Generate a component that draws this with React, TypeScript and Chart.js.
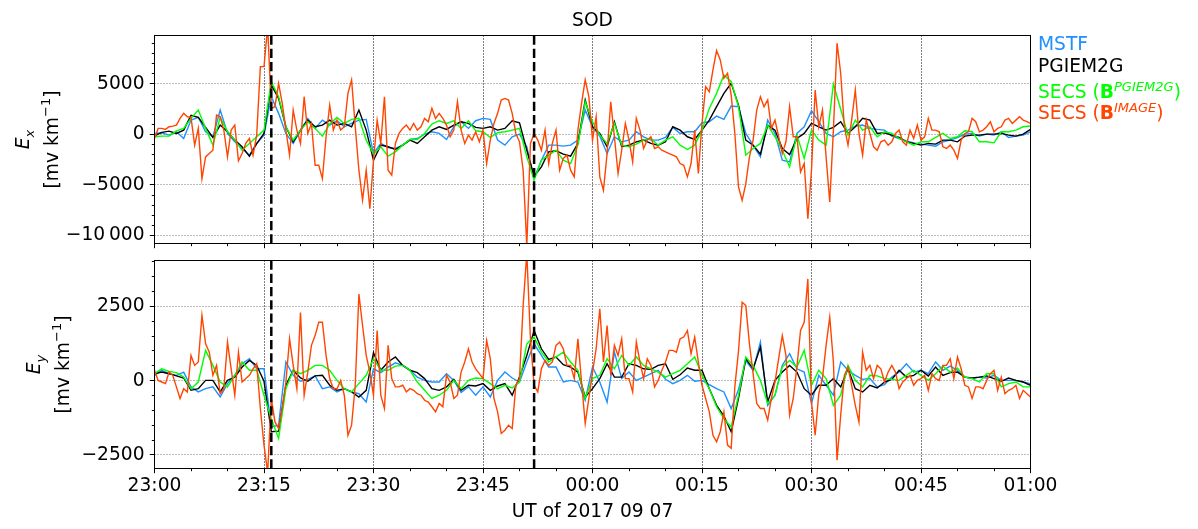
import React, { useEffect, useRef } from "react";
import { Chart, registerables } from "chart.js";

Chart.register(...registerables);

// ---------------- data ----------------
const xTickMinutes = [0, 15, 30, 45, 60, 75, 90, 105, 120];
const xTickLabels = ["23:00", "23:15", "23:30", "23:45", "00:00", "00:15", "00:30", "00:45", "01:00"];
const xMinorStep = 5;
const eventMinutes = [16, 52]; // 23:16 and 23:52
const mainStep = 1; // minutes between samples (MSTF, PGIEM2G, SECS B^PGIEM2G)
const imageStep = 0.5; // minutes between samples (SECS B^IMAGE)

const exTicks = [-10000, -5000, 0, 5000];
const exTickLabels = ["−10\u2009000", "−5000", "0", "5000"];
const eyTicks = [-2500, 0, 2500];
const eyTickLabels = ["−2500", "0", "2500"];

const exMSTF = [100,165,-66,265,-400,1420,1700,265,-230,2420,100,-730,-1390,-2050,-890,-66,3740,2090,100,-890,430,1590,600,1420,930,1360,760,1090,1420,1490,-1890,-890,-1290,-1390,-1060,-500,-400,30,265,100,-500,
760,1260,600,1360,1590,1490,-560,-1060,-230,30,-1220,-4370,-2550,-1060,-1060,-1160,-1060,-560,2420,760,-165,-1890,-230,-730,-560,265,-230,-560,-560,-300,700,100,265,265,1160,1260,1820,1490,2810,2750,
100,-1060,-2220,1420,100,-2550,-2710,100,760,2350,1260,100,-230,265,430,830,930,600,500,430,-165,-400,-630,-830,-960,-1060,-1160,-730,-560,-300,30,100,-165,30,-66,265,-300,-165,-66,265];

const exPGIEM2G = [-150,200,330,100,430,1900,1700,700,-300,930,260,-560,-1220,-2150,-900,100,4900,3580,760,-730,430,1420,760,930,1420,930,1090,760,2420,430,-2550,-1060,-1220,-1490,-1060,-560,-890,-230,430,760,500,
930,1260,1090,700,600,760,430,600,1360,1160,-1560,-4140,-3210,-1720,-1620,-1950,-2150,-890,3410,760,100,-1220,1260,-1220,-1060,-730,-560,-890,-1060,-730,760,430,-230,-500,430,1420,2750,4070,5060,2910,
-560,-1060,-1950,930,430,-1390,-1990,-400,100,1090,760,430,700,1260,100,760,1590,1420,100,165,-66,-300,-730,-890,-1060,-890,-960,-560,-560,-730,-165,-66,-66,30,30,100,-66,-165,30,500];

const exSECSpg = [-230,-165,-165,360,600,1590,2420,600,-1060,1690,265,-560,-1560,-890,-230,430,5230,3740,760,-560,430,1260,600,-165,1030,1690,1090,1490,1590,-560,-1950,-1220,-2150,-1720,-1060,-500,-500,100,1030,1360,1090,
1360,600,1360,360,265,-300,165,265,430,600,-2220,-4530,-2550,-2050,-1560,-2550,-2880,-1060,3240,1260,-66,-890,1090,-1060,-1220,-960,-560,-400,-1060,-560,-230,-1060,-1490,-1060,430,2580,4070,5890,5230,2750,
-2050,-1390,-890,930,-230,-1560,-3210,-66,-2380,430,-560,-1060,5000,2500,-66,1420,430,760,-230,265,100,-400,-730,-1060,-730,-730,-300,100,-400,-230,360,265,-730,-730,-830,265,265,430,760,830];

const exSECSim = [
-400,600,600,500,760,830,930,1590,2090,1750,
1700,-1060,600,-4370,-2220,-1890,-1560,1920,1750,430,
-2220,430,930,-2610,-1890,-890,-400,-2050,-66,6720,
6720,10690,2580,2750,5060,3080,430,-2050,2420,430,
-890,3740,100,1090,-3050,-3050,-4370,-230,2910,430,
1420,430,760,4070,5400,760,-3540,-6520,-3540,-7350,
-2550,1420,-890,3740,-3540,-4040,-890,100,600,930,
430,1090,430,760,1590,1260,2580,1590,2090,1590,
930,-230,430,3240,430,-890,-66,-560,265,-730,
430,-2880,-560,1090,2090,3410,3570,3410,2090,100,
-730,-3540,-11000,-890,100,-560,-1560,430,-2880,-890,
430,-3540,-2380,-2050,-3540,-4200,430,3080,5400,3740,
-560,1750,-4200,-5530,-1890,3240,-230,-3870,-1560,1090,
-560,-2710,1590,430,-1390,-560,-230,-1390,-1220,-1560,
-1720,-1890,-2050,-2220,-2880,-3050,-4200,-2880,430,-3870,
1090,4730,4240,6390,8310,7380,5560,6060,3900,100,
-5200,-6520,-4870,-2220,-560,2420,3740,2750,3410,600,
1420,-230,-1890,-730,2750,-230,-230,-3710,-2880,-8340,
-3540,4400,760,2420,-2220,-6690,430,9040,6060,760,
-1060,1420,4400,100,-2050,1420,100,-1220,-1560,-730,
-560,-1060,-730,100,430,-730,-1060,430,-400,930,
-560,-230,1590,430,430,265,-1220,-1390,-1060,-1560,
-2380,-560,100,265,1590,1260,265,430,760,1260,
265,600,760,1420,1590,1090,1420,1750,1420,1260,
1090];

const eyMSTF = [180,350,235,180,290,-210,-380,-270,-210,-550,-100,180,570,740,400,400,-1560,-1500,630,180,-20,45,160,-270,-210,-380,-270,-380,-440,-720,400,270,460,600,515,350,120,10,-45,-45,235,
10,-400,-210,-490,-210,-550,10,290,90,-45,630,1240,850,460,460,-45,10,-45,-660,460,-45,-720,960,70,290,10,120,235,350,45,-100,10,180,-20,10,-135,-270,-380,-940,-300,
680,350,1300,-830,-490,515,910,400,290,-770,180,-155,-490,630,350,180,45,70,-210,-135,120,290,570,290,350,235,630,350,490,350,120,70,120,90,180,10,10,10,-45,-100];

const eyPGIEM2G = [235,290,235,160,90,-325,-270,10,10,-380,10,120,460,680,515,-20,-1720,-1700,-150,350,90,-20,160,180,-155,-325,-270,-380,-550,-325,940,350,630,800,515,350,270,70,-270,-325,-210,
45,-325,-155,-180,-100,-325,-180,-100,-490,120,850,1690,1075,720,800,540,460,290,-550,-270,70,570,120,120,570,515,400,380,515,570,45,200,425,350,350,-270,-830,-1190,-1720,-600,
740,400,1130,-720,10,290,515,290,-270,-490,-155,-155,70,-210,400,-270,-380,-155,-245,-45,45,350,120,180,350,160,460,180,270,290,120,90,120,160,70,-20,90,10,-45,-155];

const eySECSpg = [235,400,315,270,120,-270,-45,1020,515,-45,-210,180,630,350,350,-490,-1280,-1950,-270,350,235,350,515,515,350,10,-270,-380,-100,180,740,350,350,490,515,350,-45,-325,-600,-490,-325,
10,-270,10,90,70,-100,-270,-155,-245,-45,1240,1470,960,630,800,960,630,350,-600,70,180,740,400,850,515,800,515,400,290,120,235,350,570,800,180,-270,-880,-1280,-1560,-500,
800,515,10,-770,-490,460,680,460,1020,-155,350,70,-830,-490,515,10,-210,180,160,70,45,10,180,350,180,10,235,490,290,425,120,70,-45,235,235,-210,-100,-45,-210,-210];

const eySECSim = [
350,10,-45,-100,290,180,-210,-600,-270,-380,
850,515,630,2200,1240,960,180,515,-440,-270,
1300,400,-490,960,-45,70,180,400,570,-940,
-2170,-3100,-600,-1390,-1610,-940,-45,1410,515,-270,
2300,-490,290,1190,1520,1970,1970,850,70,-270,
-270,10,-490,-1840,-1500,-155,2920,1860,850,290,
-490,1690,-490,-940,1190,70,-210,-210,-155,-380,
-270,-325,-440,-490,-660,-720,-880,-1050,-770,-880,
180,-45,-600,-490,290,630,1075,630,400,235,
70,1350,740,-600,-1050,-1780,-1670,-1500,-1610,-155,
70,2530,4300,1410,-155,-380,400,680,515,630,
1190,1300,1075,515,515,70,1410,-45,-1440,-600,
290,1075,2420,630,1860,180,1190,850,1410,70,
70,-380,1300,630,70,740,515,-210,10,350,
630,1020,1020,960,1410,1470,1690,910,1470,630,
-155,-600,-1050,-1840,-2060,-1720,-1050,-2170,-2280,-200,
1000,2640,2530,1240,235,-770,-940,-940,-1330,-600,
-45,740,1520,850,-1160,-600,460,1690,1970,3430,
-720,-1840,-440,70,1190,2140,630,-2680,-1160,180,
460,-155,-830,-1390,960,350,515,70,515,400,
-45,290,515,290,-270,-45,70,180,-155,10,
70,180,-325,235,70,10,515,515,740,70,
800,400,-155,-210,-600,-210,-210,-270,10,235,
350,-325,120,-440,-325,-270,-155,-600,-325,-440,
-550];

const seriesNames = ["MSTF", "PGIEM2G", "SECS (B^PGIEM2G)", "SECS (B^IMAGE)"];
const seriesColors = ["#1e90ff", "#000000", "#00ff00", "#ff4500"];

// ---------------- layout / style ----------------
const W = 1198;
const H = 529;
const FONT = '"DejaVu Sans", Verdana, sans-serif';
const FS = 18.67;
const fNorm = `${FS}px ${FONT}`;
const fBold = `bold ${FS}px ${FONT}`;
const fItal = `italic ${FS}px ${FONT}`;
const fSmall = `${FS * 0.7}px ${FONT}`;
const fSmallItal = `italic ${FS * 0.7}px ${FONT}`;

type Run = { t: string; f: string; dy: number };

function runsWidth(ctx: CanvasRenderingContext2D, runs: Run[]) {
  return runs.map((r) => {
    ctx.font = r.f;
    return ctx.measureText(r.t).width;
  });
}

function drawRuns(ctx: CanvasRenderingContext2D, runs: Run[], x0: number, by: number, color: string) {
  ctx.save();
  ctx.fillStyle = color;
  ctx.textAlign = "left";
  ctx.textBaseline = "alphabetic";
  const ws = runsWidth(ctx, runs);
  let x = x0;
  runs.forEach((r, i) => {
    ctx.font = r.f;
    ctx.fillText(r.t, x, by + r.dy);
    x += ws[i];
  });
  ctx.restore();
}

function drawRunsRot(ctx: CanvasRenderingContext2D, runs: Run[], bx: number, cy: number) {
  ctx.save();
  ctx.translate(bx, cy);
  ctx.rotate(-Math.PI / 2);
  ctx.fillStyle = "#000";
  ctx.textAlign = "left";
  ctx.textBaseline = "alphabetic";
  const ws = runsWidth(ctx, runs);
  const total = ws.reduce((a, b) => a + b, 0);
  let x = -total / 2;
  runs.forEach((r, i) => {
    ctx.font = r.f;
    ctx.fillText(r.t, x, r.dy);
    x += ws[i];
  });
  ctx.restore();
}

const snap = (v: number) => Math.floor(v) + 0.5;

type PanelCfg = {
  id: string;
  mstf: number[];
  pg: number[];
  secsPg: number[];
  secsIm: number[];
  yMin: number;
  yMax: number;
  yTicks: number[];
  yTickLabels: string[];
  yMinor: number;
  padTop: number;
  padBottom: number;
  xAxisHeight: number;
  showXLabels: boolean;
  sub: string;
  base1: number;
  base2: number;
  top: boolean;
};

function makePlugin(p: PanelCfg) {
  return {
    id: "deco_" + p.id,
    beforeDatasetsDraw(chart: any) {
      const { ctx, chartArea: a, scales } = chart;
      const xs = scales.x;
      const ys = scales.y;
      ctx.save();
      // horizontal dotted grid (grey)
      ctx.strokeStyle = "#7a7a7a";
      ctx.lineWidth = 1;
      ctx.setLineDash([1, 2]);
      for (const v of p.yTicks) {
        const y = snap(ys.getPixelForValue(v));
        ctx.beginPath();
        ctx.moveTo(a.left, y);
        ctx.lineTo(a.right, y);
        ctx.stroke();
      }
      // vertical dotted grid at major x ticks (black)
      ctx.strokeStyle = "#000";
      ctx.lineWidth = 1;
      ctx.setLineDash([1, 2]);
      for (const m of xTickMinutes) {
        if (m <= xs.min || m >= xs.max) continue;
        const x = snap(xs.getPixelForValue(m));
        ctx.beginPath();
        ctx.moveTo(x, a.top);
        ctx.lineTo(x, a.bottom);
        ctx.stroke();
      }
      ctx.restore();
    },
    afterDatasetsDraw(chart: any) {
      const { ctx, chartArea: a, scales } = chart;
      const xs = scales.x;
      const ys = scales.y;
      ctx.save();
      // event dashed lines
      ctx.strokeStyle = "#000";
      ctx.lineWidth = 2.5;
      ctx.setLineDash([9.25, 4]);
      for (const m of eventMinutes) {
        const x = xs.getPixelForValue(m);
        ctx.beginPath();
        ctx.moveTo(x, a.top);
        ctx.lineTo(x, a.bottom);
        ctx.stroke();
      }
      // frame
      ctx.setLineDash([]);
      ctx.lineWidth = 1;
      ctx.strokeRect(a.left, a.top, a.right - a.left, a.bottom - a.top);
      // x ticks
      for (let m = xs.min; m <= xs.max + 1e-9; m += xMinorStep) {
        const major = xTickMinutes.includes(m);
        const x = snap(xs.getPixelForValue(m));
        ctx.beginPath();
        ctx.moveTo(x, a.bottom);
        ctx.lineTo(x, a.bottom + (major ? 4.7 : 2.7));
        ctx.stroke();
      }
      // y ticks
      const start = Math.ceil(p.yMin / p.yMinor) * p.yMinor;
      for (let v = start; v <= p.yMax; v += p.yMinor) {
        const major = p.yTicks.includes(v);
        const y = snap(ys.getPixelForValue(v));
        ctx.beginPath();
        ctx.moveTo(a.left - (major ? 4.7 : 2.7), y);
        ctx.lineTo(a.left, y);
        ctx.stroke();
      }
      ctx.restore();
    },
    afterDraw(chart: any) {
      const { ctx, chartArea: a } = chart;
      const cy = (a.top + a.bottom) / 2;
      drawRunsRot(ctx, [
        { t: "E", f: fItal, dy: 0 },
        { t: p.sub, f: fSmallItal, dy: 4.5 },
      ], p.base1, cy);
      drawRunsRot(ctx, [
        { t: "[mv km", f: fNorm, dy: 0 },
        { t: "−1", f: fSmall, dy: -7.5 },
        { t: "]", f: fNorm, dy: 0 },
      ], p.base2, cy);
      const cx = (a.left + a.right) / 2;
      if (p.top) {
        ctx.save();
        ctx.fillStyle = "#000";
        ctx.font = fNorm;
        ctx.textAlign = "center";
        ctx.textBaseline = "alphabetic";
        ctx.fillText("SOD", cx, 26);
        ctx.restore();
        const lx = a.right + 7.5;
        drawRuns(ctx, [{ t: seriesNames[0], f: fNorm, dy: 0 }], lx, 50, seriesColors[0]);
        drawRuns(ctx, [{ t: seriesNames[1], f: fNorm, dy: 0 }], lx, 72, seriesColors[1]);
        drawRuns(ctx, [
          { t: "SECS (", f: fNorm, dy: 0 },
          { t: "B", f: fBold, dy: 0 },
          { t: "PGIEM2G", f: fSmallItal, dy: -6.6 },
          { t: ")", f: fNorm, dy: 0 },
        ], lx, 98, seriesColors[2]);
        drawRuns(ctx, [
          { t: "SECS (", f: fNorm, dy: 0 },
          { t: "B", f: fBold, dy: 0 },
          { t: "IMAGE", f: fSmallItal, dy: -6.6 },
          { t: ")", f: fNorm, dy: 0 },
        ], lx, 119, seriesColors[3]);
      } else {
        ctx.save();
        ctx.fillStyle = "#000";
        ctx.font = fNorm;
        ctx.textAlign = "center";
        ctx.textBaseline = "alphabetic";
        ctx.fillText("UT of 2017 09 07", cx, 517);
        ctx.restore();
      }
    },
  };
}

const toPts = (vals: number[], step: number) => vals.map((v, i) => ({ x: i * step, y: v }));

function makeConfig(p: PanelCfg): any {
  const ds = (label: string, data: number[], step: number, color: string, order: number) => ({
    label,
    data: toPts(data, step),
    borderColor: color,
    backgroundColor: color,
    borderWidth: 1.4,
    pointRadius: 0,
    tension: 0,
    fill: false,
    order,
  });
  return {
    type: "line",
    data: {
      datasets: [
        ds(seriesNames[0], p.mstf, mainStep, seriesColors[0], 3),
        ds(seriesNames[1], p.pg, mainStep, seriesColors[1], 2),
        ds(seriesNames[2], p.secsPg, mainStep, seriesColors[2], 1),
        ds(seriesNames[3], p.secsIm, imageStep, seriesColors[3], 0),
      ],
    },
    options: {
      animation: false,
      responsive: false,
      devicePixelRatio: 1,
      events: [],
      layout: { padding: { left: 0, right: W - 1030.5, top: p.padTop, bottom: p.padBottom } },
      plugins: { legend: { display: false }, tooltip: { enabled: false }, title: { display: false } },
      scales: {
        x: {
          type: "linear",
          min: 0,
          max: 120,
          grid: { display: false, drawTicks: false },
          border: { display: false },
          afterBuildTicks: (s: any) => {
            s.ticks = xTickMinutes.map((v) => ({ value: v }));
          },
          afterFit: (s: any) => {
            s.height = p.xAxisHeight;
          },
          ticks: {
            display: p.showXLabels,
            autoSkip: false,
            maxRotation: 0,
            minRotation: 0,
            padding: 6,
            color: "#000",
            font: { family: FONT, size: FS },
            callback: (v: number) => xTickLabels[xTickMinutes.indexOf(v)] ?? "",
          },
        },
        y: {
          type: "linear",
          min: p.yMin,
          max: p.yMax,
          grid: { display: false, drawTicks: false },
          border: { display: false },
          afterBuildTicks: (s: any) => {
            s.ticks = p.yTicks.map((v) => ({ value: v }));
          },
          afterFit: (s: any) => {
            s.width = 154.5;
          },
          ticks: {
            autoSkip: false,
            padding: 10,
            color: "#000",
            font: { family: FONT, size: FS },
            callback: (v: number) => p.yTickLabels[p.yTicks.indexOf(v)] ?? "",
          },
        },
      },
    },
    plugins: [makePlugin(p)],
  };
}

const topPanel: PanelCfg = {
  id: "ex",
  mstf: exMSTF,
  pg: exPGIEM2G,
  secsPg: exSECSpg,
  secsIm: exSECSim,
  yMin: -10800,
  yMax: 9800,
  yTicks: exTicks,
  yTickLabels: exTickLabels,
  yMinor: 1000,
  padTop: 35.5,
  padBottom: H - 243.5,
  xAxisHeight: 0,
  showXLabels: false,
  sub: "x",
  base1: 29,
  base2: 57.5,
  top: true,
};

const bottomPanel: PanelCfg = {
  id: "ey",
  mstf: eyMSTF,
  pg: eyPGIEM2G,
  secsPg: eySECSpg,
  secsIm: eySECSim,
  yMin: -2960,
  yMax: 4050,
  yTicks: eyTicks,
  yTickLabels: eyTickLabels,
  yMinor: 500,
  padTop: 260.5,
  padBottom: 0,
  xAxisHeight: H - 468.5,
  showXLabels: true,
  sub: "y",
  base1: 40,
  base2: 68.5,
  top: false,
};

export default function App() {
  const topRef = useRef<HTMLCanvasElement>(null);
  const botRef = useRef<HTMLCanvasElement>(null);
  useEffect(() => {
    const charts: Chart[] = [];
    if (topRef.current) charts.push(new Chart(topRef.current, makeConfig(topPanel)));
    if (botRef.current) charts.push(new Chart(botRef.current, makeConfig(bottomPanel)));
    return () => charts.forEach((c) => c.destroy());
  }, []);
  const cs: React.CSSProperties = { position: "absolute", left: 0, top: 0, width: W, height: H };
  return (
    <div style={{ position: "absolute", left: 0, top: 0, width: W, height: H, background: "#fff", overflow: "hidden" }}>
      <canvas ref={botRef} width={W} height={H} style={cs} />
      <canvas ref={topRef} width={W} height={H} style={cs} />
    </div>
  );
}
